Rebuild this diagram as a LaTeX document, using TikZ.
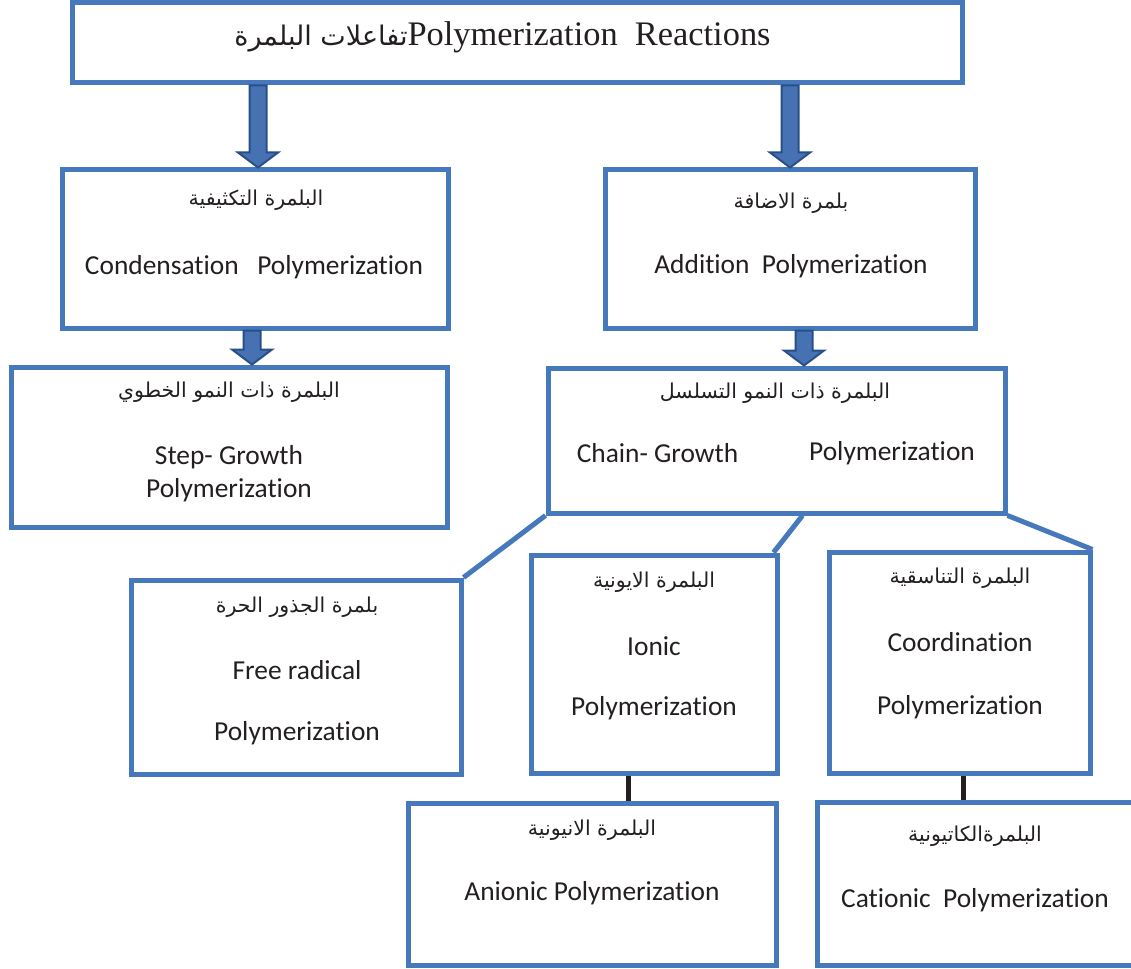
\documentclass[tikz,border=0pt]{standalone}
\usepackage{fontspec}
\setmainfont{Carlito}[Ligatures=NoCommon]
\newfontfamily\timesfont{Liberation Serif}
\newfontfamily\arabicfont[Script=Arabic]{DejaVu Sans}
\TeXXeTstate=1
\usetikzlibrary{positioning}
\usetikzlibrary{calc}
\definecolor{boxblue}{RGB}{69,121,187}
\definecolor{arrowfill}{RGB}{70,114,180}
\definecolor{arrowline}{RGB}{40,80,135}
\definecolor{inkgray}{RGB}{35,31,32}

\begin{document}
\begin{tikzpicture}[x=1pt, y=-1pt,
    box/.style={draw=boxblue, line width=5pt, rectangle, inner sep=0pt},
    en/.style={font=\fontsize{27.4}{33}\selectfont, text=inkgray, inner sep=0pt},
    ar/.style={font=\arabicfont\fontsize{20.5}{26}\selectfont, text=inkgray, inner sep=0pt},
    link/.style={draw=boxblue, line width=5pt},
    bar/.style={draw=inkgray, line width=5pt},
    blockarrow/.style={fill=arrowfill, draw=arrowline, line width=2pt}]
     \clip (0,0) rectangle (1131,968);
     \fill[white] (0,0) rectangle (1131,968);

     % boxes
     \node[box, minimum width=890, minimum height=80] (title) at (517,43) {};
     \node[box, minimum width=386, minimum height=158] (cond) at (255,249) {};
     \node[box, minimum width=370, minimum height=158] (add) at (790,249) {};
     \node[box, minimum width=436, minimum height=160] (step) at (229,447) {};
     \node[box, minimum width=457, minimum height=145] (chain) at (776.5,440.5) {};
     \node[box, minimum width=330, minimum height=194] (free) at (296,677) {};
     \node[box, minimum width=246, minimum height=218] (ionic) at (654,664) {};
     \node[box, minimum width=261, minimum height=221] (coord) at (959.5,662.5) {};
     \node[box, minimum width=368, minimum height=162] (anionic) at (592,884) {};
     \node[box, minimum width=316, minimum height=163] (cationic) at (975,883.5) {};

     % texts
     \node[text=inkgray, inner sep=0pt] (title-txt) at (502.5,37)
       {{\arabicfont\fontsize{27}{30}\selectfont\beginR تفاعلات البلمرة\endR}{\timesfont\fontsize{34.4}{40}\selectfont Polymerization\ \ Reactions}};
     \node[ar] (cond-ar) at (256,200) {\beginR البلمرة التكثيفية\endR};
     \node[en] (cond-en) at (254,267) {Condensation\ \ \ Polymerization};
     \node[ar] (add-ar) at (791,203) {\beginR بلمرة الاضافة\endR};
     \node[en] (add-en) at (791,266) {Addition\ \ Polymerization};
     \node[ar] (step-ar) at (229,392) {\beginR البلمرة ذات النمو الخطوي\endR};
     \node[en] (step-en1) at (229,457) {Step- Growth};
     \node[en] (step-en2) at (229,490) {Polymerization};
     \node[ar] (chain-ar) at (775,393) {\beginR البلمرة ذات النمو التسلسل\endR};
     \node[en] (chain-en1) at (657.5,453) {Chain- Growth};
     \node[en] (chain-en2) at (892,453) {Polymerization};
     \node[ar] (free-ar) at (297,607) {\beginR بلمرة الجذور الحرة\endR};
     \node[en] (free-en1) at (297,670) {Free radical};
     \node[en] (free-en2) at (297,733) {Polymerization};
     \node[ar] (ionic-ar) at (654,582) {\beginR البلمرة الايونية\endR};
     \node[en] (ionic-en1) at (654,646) {Ionic};
     \node[en] (ionic-en2) at (654,708) {Polymerization};
     \node[ar] (coord-ar) at (960,578) {\beginR البلمرة التناسقية\endR};
     \node[en] (coord-en1) at (960,642) {Coordination};
     \node[en] (coord-en2) at (960,707) {Polymerization};
     \node[ar] (anionic-ar) at (592,830) {\beginR البلمرة الانيونية\endR};
     \node[en] (anionic-en) at (592,893) {Anionic Polymerization};
     \node[ar] (cationic-ar) at (975,836) {\beginR البلمرةالكاتيونية\endR};
     \node[en] (cationic-en) at (975,900) {Cationic\ \ Polymerization};

     % block arrows
     \foreach \src/\dst/\dx in {title/cond/3, title/add/0, cond/step/23, add/chain/27.5}{
       \coordinate (tip) at ($(\dst.north)+(\dx,0)$);
       \coordinate (top) at (tip |- \src.south);
       \draw[blockarrow] ($(top)+(-8.5,0)$) -- ($(top)+(8.5,0)$)
         -- ($(tip)+(8.5,-15)$) -- ($(tip)+(20,-15)$) -- (tip)
         -- ($(tip)+(-20,-15)$) -- ($(tip)+(-8.5,-15)$) -- cycle;
     }

     % links
     \draw[link] (chain.south west) -- (free.north east);
     \draw[link] ($(chain.south)+(26,0)$) -- ($(ionic.north east)+(-6,0)$);
     \draw[link] (chain.south east) -- (coord.north east);
     \draw[bar] ($(ionic.south)+(-26,0)$) -- ($(anionic.north)+(36,0)$);
     \draw[bar] ($(coord.south)+(3.5,0)$) -- ($(cationic.north)+(-12,0)$);
    \end{tikzpicture}
\end{document}
